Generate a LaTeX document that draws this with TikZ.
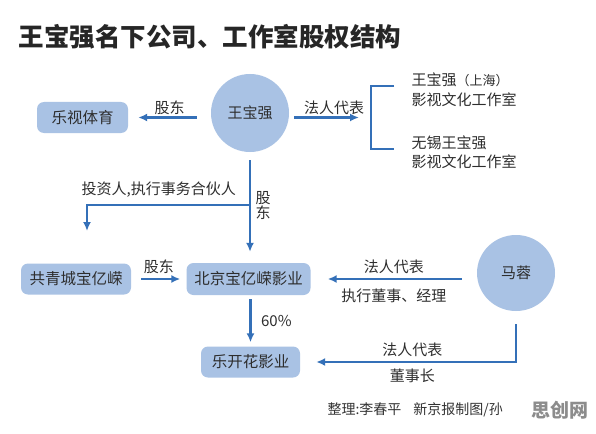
\documentclass[tikz,border=0pt]{standalone}
\usepackage{fontspec}
\setmainfont{Noto Sans CJK SC}
\usepackage{xcolor}
\usetikzlibrary{arrows.meta,positioning,shapes.geometric}
\definecolor{boxblue}{HTML}{A9C2E4}
\definecolor{linkblue}{HTML}{3470B8}
\definecolor{inkgray}{HTML}{2E2E2E}

\begin{document}
\begin{tikzpicture}[x=1pt,y=-1pt,font=\fontsize{15}{18}\selectfont,text=inkgray,
   co/.style={fill=boxblue,rounded corners=7pt,minimum height=31pt,inner xsep=6pt,
              font=\fontsize{15.5}{18}\selectfont},
   pe/.style={ellipse,fill=boxblue,minimum width=78pt,minimum height=78pt},
   lk/.style={-{Latex[length=9pt,width=8pt]},draw=linkblue,line width=2.3pt},
   lb/.style={inner sep=1.5pt}]
  \useasboundingbox[fill=white] (0,0) rectangle (596,433);
  \node[anchor=west,font=\fontsize{25.5}{28}\bfseries\selectfont,text=black!85] (title) at (15,37)
       {王宝强名下公司、工作室股权结构};
  % people
  \node[pe] (wbq) at (250,113) {王宝强};
  \node[pe,minimum height=76pt] (mr) at (516,273) {马蓉};
  % companies
  \node[co,minimum width=91pt] (lsty) at (82.5,117.5) {乐视体育};
  \node[co,minimum width=110pt] (qcc) at (76,279) {共青城宝亿嵘};
  \node[co,minimum width=124pt,minimum height=32pt] (bjby) at (248.5,279) {北京宝亿嵘影业};
  \node[co,minimum width=99pt] (lkh) at (250.5,362) {乐开花影业};
  % studios
  \node[anchor=west,align=left,font=\fontsize{15}{19.5}\selectfont] (ws1) at (408,89.5)
       {王宝强{\fontsize{13}{13}\selectfont（上海）}\\影视文化工作室};
  \node[anchor=west,align=left,font=\fontsize{15}{19.5}\selectfont] (ws2) at (408,152)
       {无锡王宝强\\影视文化工作室};
  \coordinate (brk) at (371,117.5);
  \coordinate (brt) at (371,86);
  \coordinate (brb) at (371,149);
  \draw[draw=linkblue,line width=2.5pt] ([xshift=23pt]brt) -- (brt) -- (brb) -- ([xshift=23pt]brb);
  % links
  \draw[lk,shorten <=14pt,shorten >=10pt] (wbq.west |- lsty.east) -- node[lb,above] {股东} (lsty.east);
  \draw[lk,shorten <=5pt,shorten >=12pt] (wbq.east |- brk) -- node[lb,above,xshift=4pt] {法人代表} (brk);
  \draw[lk,shorten <=8pt,shorten >=11pt] (wbq.south) -- node[lb,right,align=center,
       font=\fontsize{15}{13}\selectfont,xshift=3pt,pos=0.48] {股\\东} (wbq.south |- bjby.north);
  \coordinate (split) at (250,205);
  \coordinate (qcin) at (87,231);
  \draw[lk] (split) -| node[lb,above,pos=0.28,yshift=5pt] {投资人,执行事务合伙人} (qcin);
  \draw[lk,shorten <=10pt,shorten >=6pt] (qcc.east) -- node[lb,above,yshift=3pt] {股东} (bjby.west);
  \draw[lk,shorten <=15pt,shorten >=17pt] (mr.west |- bjby.east) --
       node[lb,above,yshift=3pt] {法人代表} node[lb,below,yshift=-7pt] {执行董事、经理} (bjby.east);
  \draw[lk,shorten <=4pt,shorten >=4pt] (bjby.south -| lkh.north) -- node[lb,right,xshift=8pt] {60\%} (lkh.north);
  \draw[lk,shorten <=13pt,shorten >=16pt] (mr.south) |-
       node[lb,above,pos=0.74,yshift=3pt] {法人代表} node[lb,below,pos=0.74,yshift=-4pt] {董事长} (lkh.east);
  % credit
  \node[anchor=west,font=\fontsize{14}{16}\selectfont,text=black!80] (credit) at (324,410)
       {整理:李春平\hspace{12pt}新京报制图/孙};
  \node[anchor=west,font=\fontsize{19}{20}\bfseries\selectfont,text=black!45,inner sep=0pt] (mark) at (531,410)
       {思创网};
\end{tikzpicture}
\end{document}
